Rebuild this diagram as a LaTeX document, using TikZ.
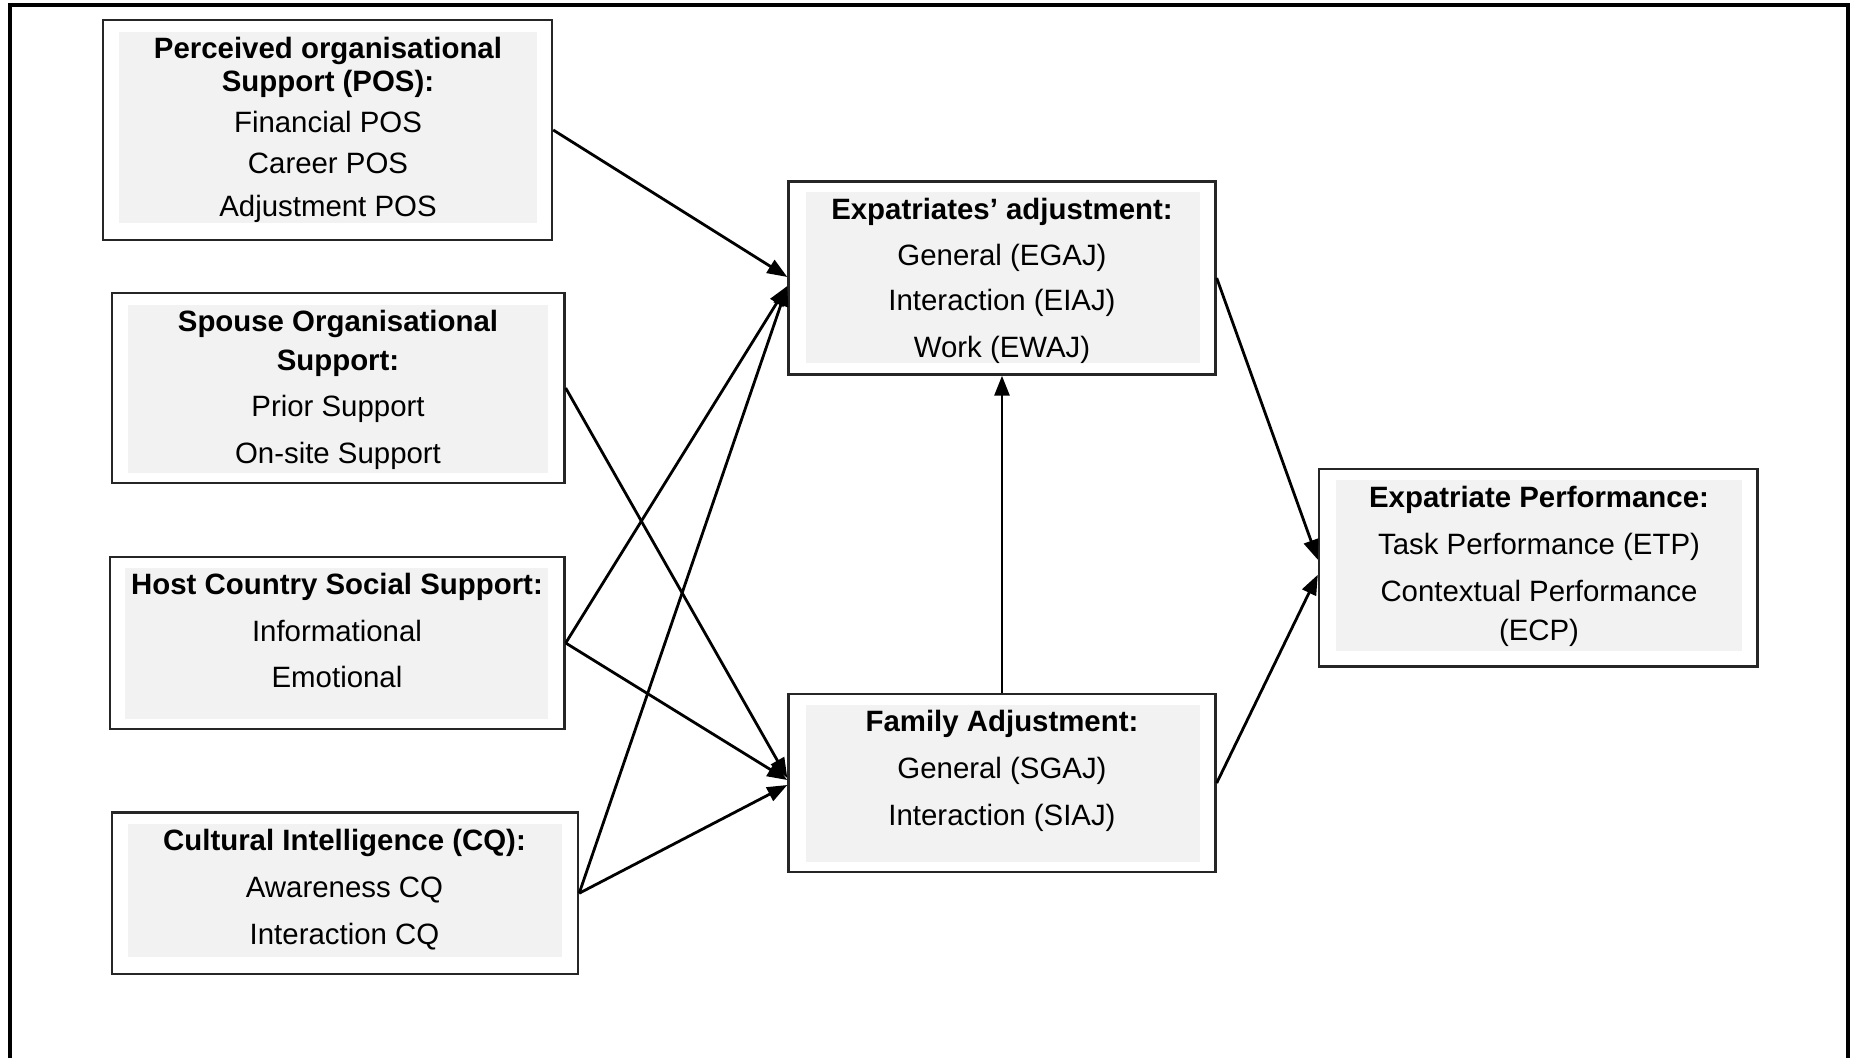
\documentclass[tikz,border=0pt]{standalone}
\usepackage{fontspec}
\setmainfont{Liberation Sans}
\usetikzlibrary{arrows.meta,fit,calc}
\definecolor{panel}{RGB}{242,242,242}
\begin{document}
\begin{tikzpicture}[x=0.5pt,y=-0.5pt,
  boxframe/.style={draw=black!85,line width=1.2pt,inner sep=0pt},
  txt/.style={font=\fontsize{14.7pt}{17pt}\selectfont,anchor=base,inner sep=0pt},
  head/.style={font=\fontsize{14.7pt}{17pt}\selectfont\bfseries,anchor=base,inner sep=0pt},
  link/.style={line width=1.4pt,-{Triangle[length=10pt,width=7.5pt]}}]

\useasboundingbox (0,0) rectangle (1853,1058);
% open outer frame
\draw[line width=1.6pt] (10,1058) -- (10,5) -- (1848,5) -- (1848,1058);

% Perceived organisational support
\fill[panel] (119,32) rectangle (536.5,223);
\node[boxframe,fit={(103,20) (552,240)}] (pos) {};
\node[head] (pos-1) at (328,58.5) {Perceived organisational};
\node[head] (pos-2) at (328,91.5) {Support (POS):};
\node[txt] (pos-3) at (328,133) {Financial POS};
\node[txt] (pos-4) at (328,174) {Career POS};
\node[txt] (pos-5) at (328,217) {Adjustment POS};

% Spouse organisational support
\fill[panel] (127.6,305) rectangle (548.4,472.7);
\node[boxframe,fit={(112,293) (564.5,483)}] (sos) {};
\node[head] (sos-1) at (338,331.5) {Spouse Organisational};
\node[head] (sos-2) at (338,370.5) {Support:};
\node[txt] (sos-3) at (338,416.5) {Prior Support};
\node[txt] (sos-4) at (338,464) {On-site Support};

% Host country social support
\fill[panel] (125.3,568.4) rectangle (548.4,718.5);
\node[boxframe,fit={(110,557) (564.5,729)}] (hcs) {};
\node[head] (hcs-1) at (337,595) {Host Country Social Support:};
\node[txt] (hcs-2) at (337,642) {Informational};
\node[txt] (hcs-3) at (337,688) {Emotional};

% Cultural intelligence
\fill[panel] (128,824) rectangle (561.5,956.5);
\node[boxframe,fit={(112,812.5) (578,974)}] (cq) {};
\node[head] (cq-1) at (344.5,850) {Cultural Intelligence (CQ):};
\node[txt] (cq-2) at (344.5,897) {Awareness CQ};
\node[txt] (cq-3) at (344.5,944) {Interaction CQ};

% Expatriates' adjustment
\fill[panel] (806,192.5) rectangle (1200,363.5);
\node[boxframe,fit={(788.5,181.5) (1215.5,374.5)}] (exp) {};
\node[head] (exp-1) at (1002,219.5) {Expatriates’ adjustment:};
\node[txt] (exp-2) at (1002,266) {General (EGAJ)};
\node[txt] (exp-3) at (1002,311) {Interaction (EIAJ)};
\node[txt] (exp-4) at (1002,358) {Work (EWAJ)};

% Family adjustment
\fill[panel] (806,705) rectangle (1200,861.5);
\node[boxframe,fit={(788.5,694) (1215.5,872)}] (fam) {};
\node[head] (fam-1) at (1002,732) {Family Adjustment:};
\node[txt] (fam-2) at (1002,778.5) {General (SGAJ)};
\node[txt] (fam-3) at (1002,825) {Interaction (SIAJ)};

% Expatriate performance
\fill[panel] (1335.5,480) rectangle (1742,651);
\node[boxframe,fit={(1319,469) (1757.5,666.5)}] (perf) {};
\node[head] (perf-1) at (1539,508) {Expatriate Performance:};
\node[txt] (perf-2) at (1539,555) {Task Performance (ETP)};
\node[txt] (perf-3) at (1539,602) {Contextual Performance};
\node[txt] (perf-4) at (1539,640) {(ECP)};

% paths between constructs
\draw[link] (pos.east) -- ($(exp.west)+(0,-1)$);
\draw[link] (hcs.east) -- ($(exp.west)+(0,8)$);
\draw[link] (cq.east) -- ($(exp.west)+(0,8)$);
\draw[link] (sos.east) -- ($(fam.west)+(0,-5)$);
\draw[link] (hcs.east) -- ($(fam.west)+(0,-3)$);
\draw[link] (cq.east) -- ($(fam.west)+(0,2)$);
\draw[link] (fam.north) -- (exp.south);
\draw[link] (exp.east) -- ($(perf.west)+(0,-8)$);
\draw[link] (fam.east) -- ($(perf.west)+(0,7)$);
\end{tikzpicture}
\end{document}
